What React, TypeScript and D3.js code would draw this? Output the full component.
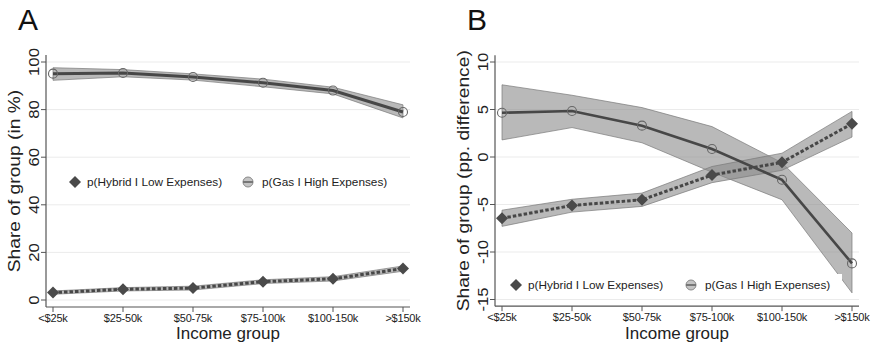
import React from "react";
import * as d3 from "d3";

const categories = ["<$25k", "$25-50k", "$50-75k", "$75-100k", "$100-150k", ">$150k"];

// Panel A (share in %)
const gasHighA = [95.1, 95.4, 93.7, 91.3, 88.0, 79.0];
const gasHighALo = [92.3, 93.8, 92.4, 89.6, 86.6, 76.5];
const gasHighAHi = [97.6, 96.8, 95.0, 92.8, 89.4, 82.0];
const hybridLowA = [3.1, 4.5, 5.0, 7.7, 8.9, 13.2];
const hybridLowALo = [2.4, 3.8, 4.2, 6.9, 8.0, 12.1];
const hybridLowAHi = [3.8, 5.2, 5.8, 8.5, 9.8, 14.3];
const ticksA = [0, 20, 40, 60, 80, 100];

// Panel B (pp. difference)
const gasHighB = [4.66, 4.84, 3.3, 0.84, -2.4, -11.2];
const gasHighBLo = [1.8, 3.1, 1.5, -1.6, -4.5, -14.3];
const gasHighBHi = [7.6, 6.5, 5.2, 3.2, -0.6, -8.0];
const hybridLowB = [-6.45, -5.1, -4.5, -1.9, -0.56, 3.5];
const hybridLowBLo = [-7.3, -5.8, -5.2, -2.7, -1.4, 2.1];
const hybridLowBHi = [-5.6, -4.45, -3.8, -1.0, 0.4, 4.8];
const ticksB = [-15, -10, -5, 0, 5, 10];

const legendLabels = ["p(Hybrid I Low Expenses)", "p(Gas I High Expenses)"];

const FONT = "'Liberation Sans', Arial, Helvetica, sans-serif";
const LINE = "#474747";
const BANDFILL = "#8a8a8a";

type PanelProps = {
  letter: string;
  left: number;
  right: number;
  yDomain: [number, number];
  yRange: [number, number];
  axisExtent: [number, number];
  ticks: number[];
  yTitle: string;
  gas: number[];
  gasLo: number[];
  gasHi: number[];
  hyb: number[];
  hybLo: number[];
  hybHi: number[];
  legendY: number;
  legendX: [number, number];
  legendBox?: [number, number, number, number];
  gasWidth: number;
};

function Diamond({ x, y, r }: { x: number; y: number; r: number }) {
  return <path d={`M${x},${y - r}L${x + r},${y}L${x},${y + r}L${x - r},${y}Z`} fill="#4a4a4a" />;
}

function Panel(p: PanelProps) {
  const x = d3.scalePoint<string>().domain(categories).range([p.left + 7, p.right - 7]);
  const y = d3.scaleLinear().domain(p.yDomain).range(p.yRange);
  const bottom = y(p.axisExtent[0]);
  const top = y(p.axisExtent[1]);
  const idx = categories.map((_, i) => i);
  const area = (lo: number[], hi: number[]) =>
    d3
      .area<number>()
      .x((i) => x(categories[i])!)
      .y0((i) => y(lo[i]))
      .y1((i) => y(hi[i]))(idx)!;
  const line = (v: number[]) =>
    d3
      .line<number>()
      .x((i) => x(categories[i])!)
      .y((i) => y(v[i]))(idx)!;
  const cy = (top + bottom) / 2;
  const cx = (p.left + p.right) / 2;
  return (
    <g fontFamily={FONT}>
      <text x={p.left - 28} y={30} fontSize={30} fill="#111">
        {p.letter}
      </text>
      {p.ticks.map((t) => (
        <line key={t} x1={p.left} x2={p.right} y1={y(t)} y2={y(t)} stroke="#ebebeb" strokeWidth={1} />
      ))}
      <path d={area(p.gasLo, p.gasHi)} fill={BANDFILL} fillOpacity={0.6} stroke="#7a7a7a" strokeWidth={0.7} />
      <path d={area(p.hybLo, p.hybHi)} fill={BANDFILL} fillOpacity={0.6} stroke="#7a7a7a" strokeWidth={0.7} />
      {p.legendBox && (
        <rect x={p.legendBox[0]} y={p.legendBox[1]} width={p.legendBox[2]} height={p.legendBox[3]} fill="#fff" />
      )}
      <path d={line(p.gas)} fill="none" stroke={LINE} strokeWidth={p.gasWidth} />
      <path d={line(p.hyb)} fill="none" stroke={LINE} strokeWidth={3} strokeDasharray="3.5,2" />
      {idx.map((i) => (
        <circle key={"c" + i} cx={x(categories[i])} cy={y(p.gas[i])} r={4.5} fill="none" stroke="#666" strokeWidth={1.1} />
      ))}
      {idx.map((i) => (
        <Diamond key={"d" + i} x={x(categories[i])!} y={y(p.hyb[i])} r={6} />
      ))}
      {/* axes */}
      <line x1={p.left} x2={p.left} y1={top} y2={bottom} stroke="#555" strokeWidth={1.2} />
      <line x1={p.left} x2={p.right} y1={bottom} y2={bottom} stroke="#555" strokeWidth={1.2} />
      {p.ticks.map((t) => (
        <g key={"t" + t}>
          <line x1={p.left - 5} x2={p.left} y1={y(t)} y2={y(t)} stroke="#555" strokeWidth={1} />
          <text
            transform={`translate(${p.left - 7},${y(t)}) rotate(-90) scale(1.15,1)`}
            textAnchor="middle"
            fontSize={14.5}
            fill="#222"
          >
            {t}
          </text>
        </g>
      ))}
      {categories.map((c) => (
        <g key={c}>
          <line x1={x(c)} x2={x(c)} y1={bottom} y2={bottom + 5} stroke="#555" strokeWidth={1} />
          <text x={x(c)} y={bottom + 15} textAnchor="middle" fontSize={11} fill="#222" letterSpacing={-0.2}>
            {c}
          </text>
        </g>
      ))}
      <text x={cx} y={339} textAnchor="middle" fontSize={17} fill="#222">
        Income group
      </text>
      <text
        transform={`translate(${p.left - 26},${cy}) rotate(-90) scale(1.13,1)`}
        textAnchor="middle"
        fontSize={17}
        fill="#222"
      >
        {p.yTitle}
      </text>
      {/* legend */}
      <Diamond x={p.legendX[0]} y={p.legendY} r={6} />
      <text x={p.legendX[0] + 12} y={p.legendY + 4} fontSize={11.8} fill="#222">
        {legendLabels[0]}
      </text>
      <circle cx={p.legendX[1]} cy={p.legendY} r={5} fill="#c4c4c4" stroke="#888" strokeWidth={1} />
      <line x1={p.legendX[1] - 5} x2={p.legendX[1] + 5} y1={p.legendY} y2={p.legendY} stroke="#777" strokeWidth={2} />
      <text x={p.legendX[1] + 14} y={p.legendY + 4} fontSize={11.8} fill="#222">
        {legendLabels[1]}
      </text>
    </g>
  );
}

export default function App() {
  return (
    <svg width={872} height={344} style={{ position: "absolute", left: 0, top: 0, background: "#fff" }}>
      <rect width={872} height={344} fill="#fff" />
      <Panel
        letter="A"
        left={46}
        right={410}
        yDomain={[0, 100]}
        yRange={[300, 62]}
        axisExtent={[-2.94, 102.9]}
        ticks={ticksA}
        yTitle="Share of group (in %)"
        gas={gasHighA}
        gasLo={gasHighALo}
        gasHi={gasHighAHi}
        hyb={hybridLowA}
        hybLo={hybridLowALo}
        hybHi={hybridLowAHi}
        legendY={182}
        legendX={[75, 248]}
        gasWidth={3}
      />
      <Panel
        letter="B"
        left={495}
        right={859}
        yDomain={[-15, 10]}
        yRange={[299.5, 62]}
        axisExtent={[-15.7, 10.7]}
        ticks={ticksB}
        yTitle="Share of group (pp. difference)"
        gas={gasHighB}
        gasLo={gasHighBLo}
        gasHi={gasHighBHi}
        hyb={hybridLowB}
        hybLo={hybridLowBLo}
        hybHi={hybridLowBHi}
        legendY={285}
        legendX={[516, 691]}
        legendBox={[505, 274, 337, 23]}
        gasWidth={2.6}
      />
    </svg>
  );
}
